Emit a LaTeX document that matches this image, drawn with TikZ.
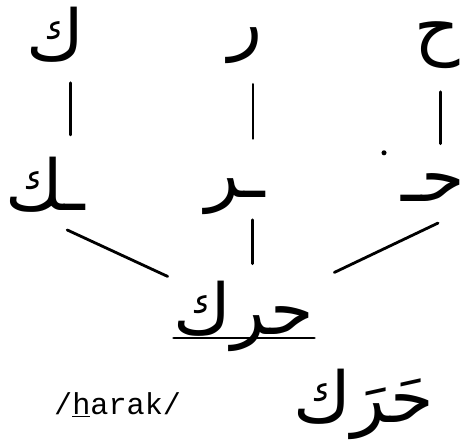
\documentclass[tikz,border=0pt]{standalone}
\usepackage{fontspec}
\newfontfamily\arabicfont[Script=Arabic]{DejaVu Sans}
\newfontfamily\translitfont{Liberation Mono}
\TeXXeTstate=1
\usepackage{tikz}
\usetikzlibrary{positioning, calc}

\begin{document}
\begin{tikzpicture}[
		letter/.style={font=\arabicfont\fontsize{50}{54}\selectfont, inner sep=0pt},
		link/.style={line width=2pt, line cap=round}]
	\useasboundingbox (0,0) rectangle (11.5,11.05);
	% isolated letters
	\node[letter] (kT) at (1.375,10.18) {\beginR ك\endR};
	\node[letter] (rT) at (6.125,9.9) {\beginR ر\endR};
	\node[letter] (hT) at (10.93,9.93) {\beginR ح\endR};
	% joined forms
	\node[letter] (kM) at (1.125,6.43) {\beginR ـك\endR};
	\node[letter] (rM) at (5.875,6.13) {\beginR ـر\endR};
	\node[letter] (hM) at (10.83,6.35) {\beginR حـ\endR};
	\fill (9.6,7.23) circle (1.8pt);
	% the word
	\node[letter] (w) at (6.1,3.15) {\beginR حرك\endR};
	\node[letter] (wv) at (9.1,0.95) {\beginR حَرَك\endR};
	\node[font=\translitfont\fontsize{21.5}{24}\selectfont, inner sep=0pt, anchor=base] (tr) at (2.94,0.68) {/\underline{h}arak/};
	\draw[link] (w.south west |- 0,2.6) -- (w.south east |- 0,2.6);
	% letter to joined form
	\draw[link] ([xshift=0.38cm,yshift=-0.5cm]kT.south) -- ([xshift=0.38cm,yshift=0.55cm]kT.south |- kM.north);
	\draw[link] ([xshift=0.2cm,yshift=-0.5cm]rT.south) -- ([xshift=0.2cm,yshift=1cm]rT.south |- rM.north);
	\draw[link] ([xshift=0.08cm,yshift=-0.58cm]hT.south) -- ([xshift=0.08cm,yshift=0.75cm]hT.south |- hM.north);
	% joined forms to the word
	\draw[link] ([xshift=-0.45cm,yshift=-0.43cm]kM.south east) -- ([xshift=-0.15cm,yshift=0.1cm]w.north west);
	\draw[link] ([xshift=0.43cm,yshift=-0.12cm]rM.south) -- ([xshift=0.43cm,yshift=0.42cm]rM.south |- w.north);
	\draw[link] ([xshift=0.12cm,yshift=-0.52cm]hM.south) -- ([xshift=0.5cm,yshift=0.2cm]w.north east);
\end{tikzpicture}
\end{document}
